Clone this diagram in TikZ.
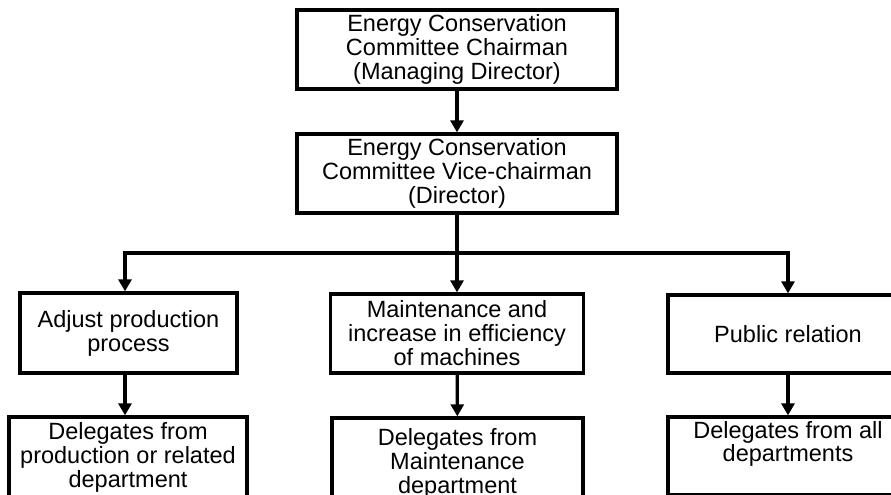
\documentclass[tikz,border=0pt]{standalone}
\usepackage{fontspec}
\setmainfont{Liberation Sans}
\usetikzlibrary{arrows.meta}
\begin{document}
\begin{tikzpicture}[x=1bp,y=-1bp,
  box/.style={draw, line width=3.3bp, rectangle, inner sep=0pt, align=center,
    font=\fontsize{23.5bp}{24bp}\selectfont},
  label/.style={inner sep=0pt, align=center, font=\fontsize{23.5bp}{20bp}\selectfont},
  link/.style={line width=3.3bp},
  arr/.style={link, -{Triangle[width=13bp,length=12bp]}}]
\useasboundingbox (0,0) rectangle (891,495);
\clip (0,0) rectangle (891,495);

% chairman and vice-chairman
\node[box, minimum width=320bp, minimum height=79bp] (chair) at (457,49.5)
  {Energy Conservation\\Committee Chairman\\(Managing Director)};
\node[box, minimum width=320bp, minimum height=79bp] (vice) at (457,173.5)
  {Energy Conservation\\Committee Vice-chairman\\(Director)};

% working groups
\node[box, minimum width=217bp, minimum height=80bp] (adjust) at (128.5,333)
  {Adjust production\\process};
\node[box, minimum width=253bp, minimum height=79bp] (maint) at (457,333.5)
  {Maintenance and\\increase in efficiency\\of machines};
\node[box, minimum width=240bp, minimum height=78bp] (public) at (788,334)
  {Public relation};

% delegates
\node[box, minimum width=238bp, minimum height=80bp] (delprod) at (128,457)
  {Delegates from\\production or related\\department};
\node[box, minimum width=251bp, minimum height=90bp] (delmaint) at (457.5,463)
  {Delegates from\\Maintenance\\department};
\node[box, minimum width=240bp, minimum height=78bp] (delall) at (788,456) {};
\node[label] (delalltext) at (788,444) {Delegates from all\\departments};

% branching points
\coordinate (hub) at (457,253);
\coordinate (left) at (125,253);

% connectors
\draw[arr] (chair) -- (vice);
\draw[link] (vice.south) -- (hub);
\draw[arr] (hub) -| (left |- adjust.north);
\draw[arr] (hub) -| (public.north);
\draw[arr] (hub) -- (maint.north);
\draw[arr] (left |- adjust.south) -- (left |- delprod.north);
\draw[arr] (maint) -- (delmaint);
\draw[arr] (public) -- (delall);
\end{tikzpicture}
\end{document}
